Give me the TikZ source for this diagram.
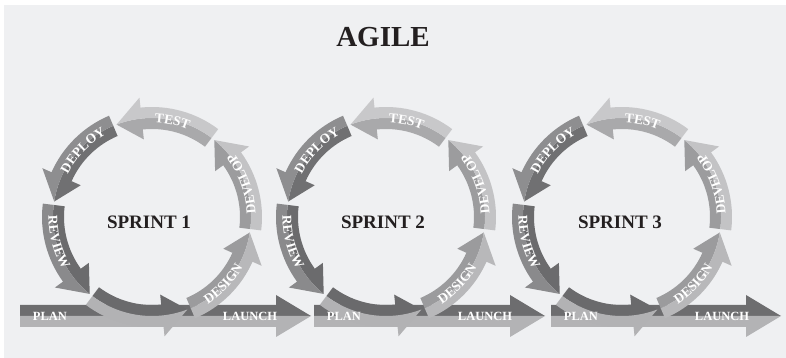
\documentclass[tikz,border=0pt]{standalone}
\usepackage{fontspec}
\setmainfont{Liberation Serif}
\usepackage{tikz, xcolor}
\usetikzlibrary{decorations.text}

\definecolor{bg}{HTML}{EFF0F2}
\definecolor{ink}{HTML}{231F20}
\definecolor{bandtop}{HTML}{6D6D6F}
\definecolor{bandbot}{HTML}{B3B3B5}
\definecolor{devin}{HTML}{9C9C9E}
\definecolor{devout}{HTML}{C3C3C5}
\definecolor{testin}{HTML}{A9A9AB}
\definecolor{testout}{HTML}{C8C8CA}
\definecolor{depin}{HTML}{707072}
\definecolor{depout}{HTML}{8E8E90}
\definecolor{revin}{HTML}{6B6B6D}
\definecolor{revout}{HTML}{8A8A8C}
\definecolor{botin}{HTML}{6A6A6C}
\definecolor{botout}{HTML}{B2B2B4}
\definecolor{desin}{HTML}{9B9B9D}
\definecolor{desout}{HTML}{B8B8BA}

\newcommand{\labelfont}{\bfseries\fontsize{12.5}{13}\selectfont}
\newcommand{\arcfont}{\bfseries\fontsize{13.5}{14}\selectfont}
% tail, head base, tip, inner colour, outer colour
\newcommand{\arcarrow}[5]{%
\fill[#4] (#1:99pt) -- (#1:88pt) arc[start angle=#1, end angle=#2, radius=88pt] -- (#2:78pt) -- (#3:99pt) arc[start angle=#3, end angle=#1, radius=99pt] -- cycle;
\fill[#5] (#1:99pt) -- (#1:110pt) arc[start angle=#1, end angle=#2, radius=110pt] -- (#2:120pt) -- (#3:99pt) arc[start angle=#3, end angle=#1, radius=99pt] -- cycle;}
% start, end, radius, text
\newcommand{\arctext}[4]{%
\path[decorate, decoration={text along path, text align=center, text color=white, text={|\arcfont|#4}}] (#1:#3) arc[start angle=#1, end angle=#2, radius=#3];}

\begin{document}
\begin{tikzpicture}[x=1pt, y=1pt]
\tikzstyle{sprinttitle}=[text=ink, font=\bfseries\fontsize{19}{20}\selectfont, inner sep=0pt]
\tikzstyle{bandtext}=[text=white, font=\labelfont, inner sep=0pt]

\useasboundingbox (0,0) rectangle (786,358);
\fill[bg] (4,0) rectangle (786,353);
\node[text=ink, font=\bfseries\fontsize{29}{30}\selectfont, inner sep=0pt] (title) at (383,321) {AGILE};

% sprint 1
\fill[bandtop] (20,42) -- (20,53) -- (276,53) -- (276,63) -- (311,42) -- cycle;
\fill[bandbot] (20,42) -- (20,31) -- (276,31) -- (276,21) -- (311,42) -- cycle;
\begin{scope}[shift={(152,141)}]
\arcarrow{-7}{36}{51}{devin}{devout}
\arcarrow{53}{96}{111}{testin}{testout}
\arcarrow{113}{156}{171}{depin}{depout}
\arcarrow{173}{216}{231}{revin}{revout}
\arcarrow{233}{276}{291}{botin}{botout}
\arcarrow{293}{336}{351}{desin}{desout}
\arctext{-10}{50}{103.5pt}{DEVELOP}
\arctext{108}{48}{94.5pt}{TEST}
\arctext{166}{106}{94.5pt}{DEPLOY}
\arctext{165}{225}{103.5pt}{REVIEW}
\arctext{287}{347}{103.5pt}{DESIGN}
\end{scope}
\node[sprinttitle] (S1) at (149,136) {SPRINT 1};
\node[bandtext] (S1plan) at (50,42) {PLAN};
\node[bandtext] (S1launch) at (250,42) {LAUNCH};

% sprint 2
\fill[bandtop] (314,42) -- (314,53) -- (510,53) -- (510,63) -- (545,42) -- cycle;
\fill[bandbot] (314,42) -- (314,31) -- (510,31) -- (510,21) -- (545,42) -- cycle;
\begin{scope}[shift={(386,141)}]
\arcarrow{-7}{36}{51}{devin}{devout}
\arcarrow{53}{96}{111}{testin}{testout}
\arcarrow{113}{156}{171}{depin}{depout}
\arcarrow{173}{216}{231}{revin}{revout}
\arcarrow{233}{276}{291}{botin}{botout}
\arcarrow{293}{336}{351}{desin}{desout}
\arctext{-10}{50}{103.5pt}{DEVELOP}
\arctext{108}{48}{94.5pt}{TEST}
\arctext{166}{106}{94.5pt}{DEPLOY}
\arctext{165}{225}{103.5pt}{REVIEW}
\arctext{287}{347}{103.5pt}{DESIGN}
\end{scope}
\node[sprinttitle] (S2) at (383,136) {SPRINT 2};
\node[bandtext] (S2plan) at (344,42) {PLAN};
\node[bandtext] (S2launch) at (485,42) {LAUNCH};

% sprint 3
\fill[bandtop] (551,42) -- (551,53) -- (746,53) -- (746,63) -- (781,42) -- cycle;
\fill[bandbot] (551,42) -- (551,31) -- (746,31) -- (746,21) -- (781,42) -- cycle;
\begin{scope}[shift={(622,141)}]
\arcarrow{-7}{36}{51}{devin}{devout}
\arcarrow{53}{96}{111}{testin}{testout}
\arcarrow{113}{156}{171}{depin}{depout}
\arcarrow{173}{216}{231}{revin}{revout}
\arcarrow{233}{276}{291}{botin}{botout}
\arcarrow{293}{336}{351}{desin}{desout}
\arctext{-10}{50}{103.5pt}{DEVELOP}
\arctext{108}{48}{94.5pt}{TEST}
\arctext{166}{106}{94.5pt}{DEPLOY}
\arctext{165}{225}{103.5pt}{REVIEW}
\arctext{287}{347}{103.5pt}{DESIGN}
\end{scope}
\node[sprinttitle] (S3) at (620,136) {SPRINT 3};
\node[bandtext] (S3plan) at (581,42) {PLAN};
\node[bandtext] (S3launch) at (722,42) {LAUNCH};
\end{tikzpicture}
\end{document}
